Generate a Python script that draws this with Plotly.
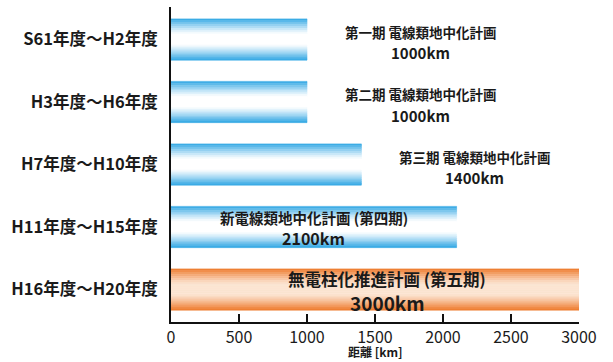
import plotly.graph_objects as go

periods = ["S61年度～H2年度", "H3年度～H6年度", "H7年度～H10年度", "H11年度～H15年度", "H16年度～H20年度"]
distances = [1000, 1000, 1400, 2100, 3000]
plan_names = ["第一期 電線類地中化計画", "第二期 電線類地中化計画", "第三期 電線類地中化計画",
              "新電線類地中化計画 (第四期)", "無電柱化推進計画 (第五期)"]
plan_km = ["1000km", "1000km", "1400km", "2100km", "3000km"]
label_inside = [False, False, False, True, True]
x_ticks = [0, 500, 1000, 1500, 2000, 2500, 3000]
x_title = "距離 [km]"

FONT = "Noto Sans CJK JP"
BLUE_EDGE = (45, 166, 228)
BLUE_MID = (255, 255, 255)
ORANGE_EDGE = (238, 120, 40)
ORANGE_MID = (252, 228, 210)
edge_cols = [BLUE_EDGE] * 4 + [ORANGE_EDGE]
mid_cols = [BLUE_MID] * 4 + [ORANGE_MID]

def mix(a, b, t):
    return "rgb(%d,%d,%d)" % tuple(round(a[k] + (b[k] - a[k]) * t) for k in range(3))

# gradient bars built from thin side-by-side slices (group mode)
fig = go.Figure()
W = 0.66
N = 22
for i in range(N):
    u = (i + 0.5) / N * 2 - 1          # -1..1 across bar thickness
    s = abs(u)
    e = max(0.0, (s - 0.25) / 0.75) ** 1.2   # edge weight
    t = 1 - e
    cols = [mix(ec, mc, t) for ec, mc in zip(edge_cols, mid_cols)]
    fig.add_trace(go.Bar(
        y=periods, x=distances, orientation="h",
        marker=dict(color=cols, line=dict(width=0.6, color=cols)),
        hoverinfo="skip", showlegend=False,
    ))

annotations = []
for p, v, name, km, inside in zip(periods, distances, plan_names, plan_km, label_inside):
    big = (p == periods[-1])
    if big:
        s1, s2, up, down = 16.5, 19, 11, 13
    elif inside:
        s1, s2, up, down = 14.5, 16, 10, 11
    else:
        s1, s2, up, down = 13.5, 15, 8, 13
    if inside:
        x = v * (0.53 if big else 0.5)
    else:
        x = v + 835
    for txt, sz, sh in ((name, s1, up), (km, s2, -down)):
        annotations.append(dict(
            x=x, y=p, xref="x", yref="y", xanchor="center", yanchor="middle",
            text="<b>%s</b>" % txt, showarrow=False, yshift=sh,
            font=dict(family=FONT, size=sz, color="#1a1a1a"),
        ))

# x-axis title placed below the tick labels, anchored to the page bottom
annotations.append(dict(
    x=0.5, y=0, xref="paper", yref="paper", xanchor="center", yanchor="bottom",
    text="<b>%s</b>" % x_title, showarrow=False, yshift=-40,
    font=dict(family=FONT, size=12, color="#1a1a1a"),
))

fig.update_layout(
    width=613, height=362,
    margin=dict(l=171, r=34, t=7, b=40),
    paper_bgcolor="white", plot_bgcolor="white",
    barmode="group", bargap=1 - W, bargroupgap=0,
    annotations=annotations,
    font=dict(family=FONT, color="#1a1a1a"),
)
fig.update_xaxes(
    range=[0, 3000], tickvals=x_ticks, ticktext=[str(t) for t in x_ticks],
    showgrid=False, zeroline=False, showline=True, linecolor="#111", linewidth=2,
    ticks="inside", ticklen=8, tickwidth=2, tickcolor="#111",
    tickfont=dict(family=FONT, size=16, color="#1a1a1a"),
    automargin=False,
)
fig.update_yaxes(
    categoryorder="array", categoryarray=periods, range=[4.52, -0.52],
    showgrid=False, zeroline=False, showline=True, linecolor="#111", linewidth=2,
    ticks="", ticklabelstandoff=8,
    tickfont=dict(family=FONT, size=16.5, color="#1a1a1a"),
    automargin=False,
)
fig.update_yaxes(tickvals=periods, ticktext=["<b>%s</b>" % p for p in periods])

fig.write_html("out.html")
